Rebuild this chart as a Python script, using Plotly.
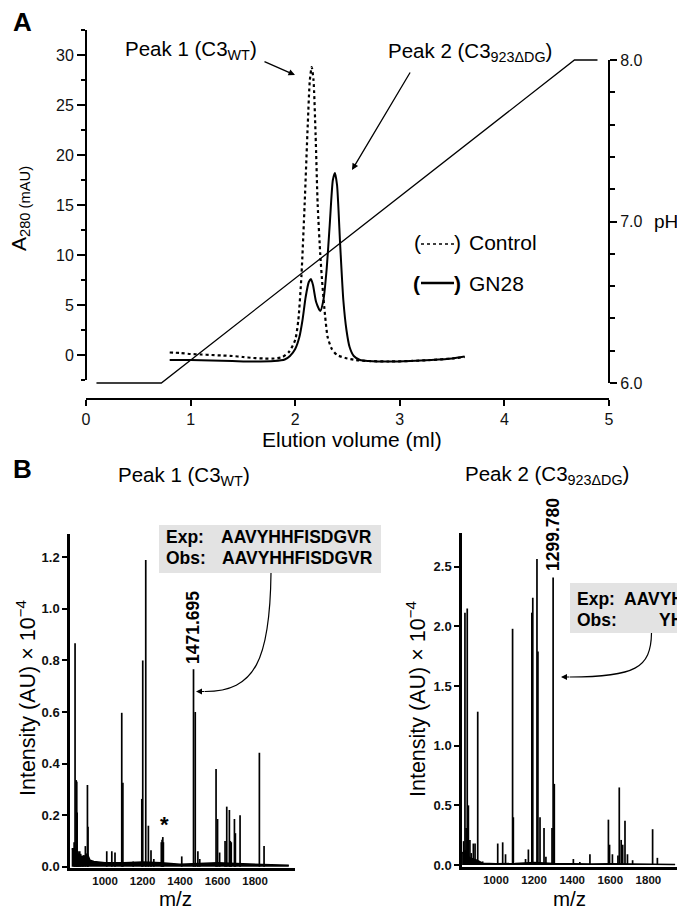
import plotly.graph_objects as go

W, H = 685, 910
FONT = "Liberation Sans, Arial, Helvetica, sans-serif"
PAGE_OFFSET = 8  # default body margin of the html page

# ---------------- Panel A data ----------------
control_ml = [0.80, 0.90, 1.00, 1.10, 1.20, 1.30, 1.40, 1.50, 1.60, 1.70, 1.80, 1.88, 1.94, 2.00,
              2.03, 2.06, 2.09, 2.12, 2.14, 2.158, 2.175, 2.195, 2.215, 2.24, 2.26, 2.285, 2.31,
              2.35, 2.40, 2.48, 2.58, 2.70, 2.90, 3.10, 3.30, 3.50, 3.62]
control_a280 = [0.25, 0.20, 0.10, 0.05, 0.00, -0.05, -0.10, -0.20, -0.30, -0.35, -0.35, -0.20, 0.30, 1.5,
                3.5, 8.0, 15.0, 23.0, 27.5, 28.8, 27.5, 22.0, 15.0, 10.0, 7.0, 4.0, 1.8,
                0.6, 0.0, -0.30, -0.50, -0.60, -0.65, -0.60, -0.50, -0.35, -0.20]

gn28_ml = [0.80, 1.00, 1.20, 1.40, 1.60, 1.80, 1.90, 1.95, 2.00, 2.04, 2.07, 2.10, 2.13, 2.15,
           2.17, 2.20, 2.24, 2.27, 2.30, 2.33, 2.36, 2.38, 2.40, 2.43, 2.46, 2.49, 2.52, 2.56,
           2.62, 2.70, 2.90, 3.10, 3.30, 3.50, 3.62]
gn28_a280 = [-0.50, -0.50, -0.55, -0.60, -0.65, -0.60, -0.45, -0.10, 0.6, 1.8, 3.5, 5.8, 7.3, 7.6,
             7.0, 5.3, 4.4, 5.5, 8.5, 13.0, 17.5, 18.2, 17.0, 11.0, 5.5, 2.5, 0.8, -0.1,
             -0.50, -0.60, -0.65, -0.60, -0.50, -0.35, -0.15]

ph_ml = [0.10, 0.72, 4.67, 4.89]
ph_value = [6.0, 6.0, 8.0, 8.0]

a_xticks = [0, 1, 2, 3, 4, 5]
a_yticks = [0, 5, 10, 15, 20, 25, 30]
ph_ticks = [6.0, 7.0, 8.0]

# ---------------- Panel B data ----------------
peak1_mz = [835, 840, 846, 849, 851, 856, 860, 865, 870, 878, 885, 895, 906, 909,
            1009, 1036, 1053, 1089, 1095, 1150, 1196, 1201, 1217, 1231, 1245, 1260,
            1300, 1304, 1308, 1311, 1409, 1471.695, 1481, 1495, 1505,
            1592, 1600, 1611, 1640, 1649, 1663, 1668, 1673, 1690, 1695, 1720, 1823, 1848]
peak1_int = [0.095, 0.867, 0.336, 0.33, 0.21, 0.06, 0.05, 0.06, 0.05, 0.04, 0.045, 0.08, 0.317, 0.155,
             0.06, 0.06, 0.055, 0.597, 0.326, 0.02, 0.263, 0.80, 1.19, 0.159, 0.064, 0.03,
             0.095, 0.105, 0.115, 0.095, 0.04, 0.766, 0.60, 0.06, 0.03,
             0.379, 0.185, 0.055, 0.10, 0.233, 0.22, 0.10, 0.095, 0.185, 0.13, 0.20, 0.442, 0.08]
peak1_base_mz = [822, 835, 845, 860, 875, 890, 905, 920, 940, 970, 1000, 1100, 1200, 1300,
                 1400, 1500, 1600, 1700, 1800, 1900, 1980]
peak1_base_int = [0.07, 0.07, 0.06, 0.045, 0.04, 0.04, 0.05, 0.025, 0.02, 0.018, 0.015, 0.015,
                  0.018, 0.015, 0.010, 0.012, 0.015, 0.012, 0.010, 0.008, 0.006]

peak2_mz = [830, 837, 843, 849, 855, 863, 870, 881, 890, 904, 930, 1009, 1035, 1050, 1087, 1091,
            1155, 1170, 1188, 1193, 1215, 1220, 1231, 1252, 1262, 1294, 1299.78, 1306, 1406, 1440,
            1493, 1590, 1596, 1611, 1640, 1647, 1657, 1665, 1677, 1690, 1717, 1822, 1847]
peak2_int = [0.20, 2.115, 0.31, 2.15, 0.50, 0.21, 0.10, 0.18, 0.18, 1.285, 0.03, 0.18, 0.19, 0.09, 1.98, 0.40,
             0.05, 0.13, 2.115, 2.24, 2.565, 1.79, 0.40, 0.31, 0.07, 0.31, 2.41, 0.68, 0.05, 0.025,
             0.09, 0.38, 0.17, 0.09, 0.08, 0.65, 0.21, 0.17, 0.37, 0.09, 0.04, 0.30, 0.06]
peak2_base_mz = [822, 840, 860, 880, 900, 930, 1000, 1100, 1200, 1300, 1400, 1500, 1600, 1700,
                 1800, 1900, 1940]
peak2_base_int = [0.10, 0.12, 0.06, 0.05, 0.04, 0.015, 0.010, 0.012, 0.02, 0.012, 0.008, 0.008,
                  0.010, 0.008, 0.006, 0.005, 0.005]

mz_ticks = [1000, 1200, 1400, 1600, 1800]
b1_yticks = [0.0, 0.2, 0.4, 0.6, 0.8, 1.0, 1.2]
b2_yticks = [0.0, 0.5, 1.0, 1.5, 2.0, 2.5]


def px(x):
    return (x - PAGE_OFFSET) / W


def py(y):
    return 1 - (y - PAGE_OFFSET) / H


def sticks(mz, inten):
    xs, ys = [], []
    for m, h in zip(mz, inten):
        xs += [m, m, None]
        ys += [0, h, None]
    return xs, ys


fig = go.Figure()

# Panel A traces
fig.add_trace(go.Scatter(x=control_ml, y=control_a280, mode="lines", xaxis="x", yaxis="y",
                         line=dict(color="black", width=2.2, dash="dot", shape="spline", smoothing=0.6),
                         showlegend=False, hoverinfo="skip"))
fig.add_trace(go.Scatter(x=gn28_ml, y=gn28_a280, mode="lines", xaxis="x", yaxis="y",
                         line=dict(color="black", width=2.0, shape="spline", smoothing=0.6),
                         showlegend=False, hoverinfo="skip"))
fig.add_trace(go.Scatter(x=[], y=[], mode="lines", xaxis="x", yaxis="y2", showlegend=False))
fig.add_trace(go.Scatter(x=ph_ml, y=ph_value, mode="lines", xaxis="x", yaxis="y3",
                         line=dict(color="black", width=1.3), showlegend=False, hoverinfo="skip"))

# Panel B traces
for mz, inten, bmz, bint, xa, ya in [
    (peak1_mz, peak1_int, peak1_base_mz, peak1_base_int, "x2", "y4"),
    (peak2_mz, peak2_int, peak2_base_mz, peak2_base_int, "x3", "y5"),
]:
    fig.add_trace(go.Scatter(x=bmz, y=bint, mode="lines", fill="tozeroy", fillcolor="black",
                             line=dict(color="black", width=1.5), xaxis=xa, yaxis=ya,
                             showlegend=False, hoverinfo="skip"))
    sx, sy = sticks(mz, inten)
    fig.add_trace(go.Scatter(x=sx, y=sy, mode="lines", line=dict(color="black", width=1.7),
                             xaxis=xa, yaxis=ya, showlegend=False, hoverinfo="skip", connectgaps=False))

tick_font_a = dict(family=FONT, size=16, color="#111")
tick_font_b = dict(family=FONT, size=13, color="#111", weight="bold")
tick_font_bx = dict(family=FONT, size=11.5, color="#111", weight="bold")

a_y_range = [-2.5, 32.5]
ph_range = [6.0, 8.0]
ph_pad = 8 / 161.5

fig.update_layout(
    width=W, height=H, template="none",
    margin=dict(l=0, r=0, t=0, b=0),
    paper_bgcolor="white", plot_bgcolor="rgba(0,0,0,0)",
    font=dict(family=FONT, color="black"),
    xaxis=dict(domain=[px(86), px(609)], range=[0, 5], anchor="free", position=py(399),
               tickvals=a_xticks, ticks="outside", ticklen=6, tickwidth=1.5, tickcolor="black",
               showline=True, linewidth=2, linecolor="black", showgrid=False, zeroline=False,
               tickfont=tick_font_a, automargin=False),
    yaxis=dict(domain=[py(380), py(30)], range=a_y_range, anchor="free", position=px(86),
               tickvals=a_yticks, ticks="outside", ticklen=8, tickwidth=1.5, tickcolor="black",
               minor=dict(dtick=2.5, tick0=0, ticks="outside", ticklen=4, tickwidth=1.5, tickcolor="black",
                          showgrid=False),
               showline=True, linewidth=2, linecolor="black", showgrid=False, zeroline=False,
               tickfont=tick_font_a, automargin=False),
    yaxis2=dict(domain=[py(383), py(60)], range=ph_range, anchor="free", position=px(609), side="right",
                tickvals=ph_ticks, tickformat=".1f", ticks="outside", ticklen=7, tickwidth=1.5,
                tickcolor="black",
                minor=dict(dtick=0.2, tick0=6, ticks="outside", ticklen=5, tickwidth=1.5, tickcolor="black",
                           showgrid=False),
                showline=True, linewidth=2, linecolor="black", showgrid=False, zeroline=False,
                tickfont=tick_font_a, automargin=False),
    yaxis3=dict(domain=[py(383 + 8), py(60 - 8)], range=[ph_range[0] - ph_pad, ph_range[1] + ph_pad],
                anchor="x", visible=False, showgrid=False, zeroline=False),
    xaxis2=dict(domain=[px(70), px(295)], range=[813, 2013], anchor="y4",
                tickvals=mz_ticks, ticks="", showline=True, linewidth=2.5, linecolor="black",
                showgrid=False, zeroline=False, tickfont=tick_font_bx, automargin=False),
    yaxis4=dict(domain=[py(868), py(534)], range=[-0.005, 1.2905], anchor="x2",
                tickvals=b1_yticks, tickformat=".1f", ticks="outside", ticklen=5, tickwidth=1.5,
                tickcolor="black", showline=True, linewidth=2.5, linecolor="black",
                showgrid=False, zeroline=False, tickfont=tick_font_b, automargin=False),
    xaxis3=dict(domain=[px(462), px(693)], range=[821.5, 2034], anchor="y5",
                tickvals=mz_ticks, ticks="", showline=True, linewidth=2.5, linecolor="black",
                showgrid=False, zeroline=False, tickfont=tick_font_bx, automargin=False),
    yaxis5=dict(domain=[py(867), py(533)], range=[-0.0168, 2.783], anchor="x3",
                tickvals=b2_yticks, tickformat=".1f", ticks="outside", ticklen=5, tickwidth=1.5,
                tickcolor="black", showline=True, linewidth=2.5, linecolor="black",
                showgrid=False, zeroline=False, tickfont=tick_font_b, automargin=False),
)

ann = []


def text(t, x, y, size=20, xanchor="center", yanchor="middle", angle=0, bold=False, color="black"):
    ann.append(dict(text=t, x=px(x), y=py(y), xref="paper", yref="paper", showarrow=False,
                    xanchor=xanchor, yanchor=yanchor, textangle=angle, borderpad=0,
                    font=dict(family=FONT, size=size, color=color, weight="bold" if bold else "normal")))


def arrow(tip_x, tip_y, tail_x, tail_y, width=1.3, head=2, size=1.0):
    ann.append(dict(text="", x=px(tip_x), y=py(tip_y), xref="paper", yref="paper", showarrow=True,
                    ax=tail_x - tip_x, ay=tail_y - tip_y, axref="pixel", ayref="pixel",
                    arrowhead=head, arrowsize=size, arrowwidth=width, arrowcolor="black"))


# Panel A texts
text("A", 22, 22, size=26, bold=True)
text("Peak 1 (C3<sub>WT</sub>)", 191, 50, size=20.5)
text("Peak 2 (C3<sub>923ΔDG</sub>)", 470, 52, size=20.5)
arrow(295, 75, 263, 61)
arrow(352, 170, 411, 71)
text("A<sub>280 (mAU)</sub>", 20, 209, size=21, angle=-90)
text("Elution volume (ml)", 352, 439, size=21)
text("pH", 653, 221, size=19, xanchor="left")
text("(", 413, 243, size=21, xanchor="left")
text(")", 462, 243, size=21, xanchor="right")
text("Control", 468, 243, size=21, xanchor="left")
text("(", 412, 283, size=21, xanchor="left", bold=True)
text(")", 462, 283, size=21, xanchor="right", bold=True)
text("GN28", 468, 283, size=21, xanchor="left")

# Panel B texts
text("B", 22, 469, size=26, bold=True)
text("Peak 1 (C3<sub>WT</sub>)", 184, 476, size=20.5)
text("Peak 2 (C3<sub>923ΔDG</sub>)", 547, 475, size=20.5)
text("Intensity (AU) × 10<sup>−4</sup>", 26, 698, size=21.5, angle=-90)
text("Intensity (AU) × 10<sup>−4</sup>", 416, 699, size=21.5, angle=-90)
text("m/z", 175, 898, size=20.5)
text("m/z", 569, 898, size=20.5)
text("1471.695", 193, 628, size=17.5, angle=-90, bold=True)
text("1299.780", 553, 535, size=17.5, angle=-90, bold=True)
text("*", 164, 824, size=22, bold=True)
text("Exp:", 165, 537, size=17.5, xanchor="left", bold=True)
text("AAVYHHFISDGVR", 220, 537, size=17.5, xanchor="left", bold=True)
text("Obs:", 165, 558, size=17.5, xanchor="left", bold=True)
text("AAVYHHFISDGVR", 221, 558, size=17.5, xanchor="left", bold=True)
text("Exp:", 576, 599, size=17.5, xanchor="left", bold=True)
text("AAVYH", 623, 599, size=17.5, xanchor="left", bold=True)
text("Obs:", 576, 620, size=17.5, xanchor="left", bold=True)
text("YH", 684, 620, size=17.5, xanchor="right", bold=True)
arrow(196, 691.5, 206, 691.5, width=1.2)
arrow(561, 677, 571, 677, width=1.2)

shapes = [
    dict(type="rect", xref="paper", yref="paper", x0=px(159), x1=px(381), y0=py(573), y1=py(525),
         fillcolor="#e3e3e3", line=dict(width=0), layer="below"),
    dict(type="rect", xref="paper", yref="paper", x0=px(570), x1=px(700), y0=py(633), y1=py(583),
         fillcolor="#e3e3e3", line=dict(width=0), layer="below"),
    dict(type="path", xref="paper", yref="paper",
         path=f"M {px(271)},{py(573)} C {px(270)},{py(660)} {px(255)},{py(691.5)} {px(205)},{py(691.5)}",
         line=dict(color="black", width=1.2)),
    dict(type="path", xref="paper", yref="paper",
         path=f"M {px(651.5)},{py(633)} C {px(651)},{py(668)} {px(635)},{py(677)} {px(570)},{py(677)}",
         line=dict(color="black", width=1.2)),
    dict(type="line", xref="paper", yref="paper", x0=px(421), x1=px(455), y0=py(244), y1=py(244),
         line=dict(color="black", width=1.6, dash="dot")),
    dict(type="line", xref="paper", yref="paper", x0=px(421), x1=px(454), y0=py(283), y1=py(283),
         line=dict(color="black", width=2.5)),
]

fig.update_layout(annotations=ann, shapes=shapes)
fig.write_html("out.html")
